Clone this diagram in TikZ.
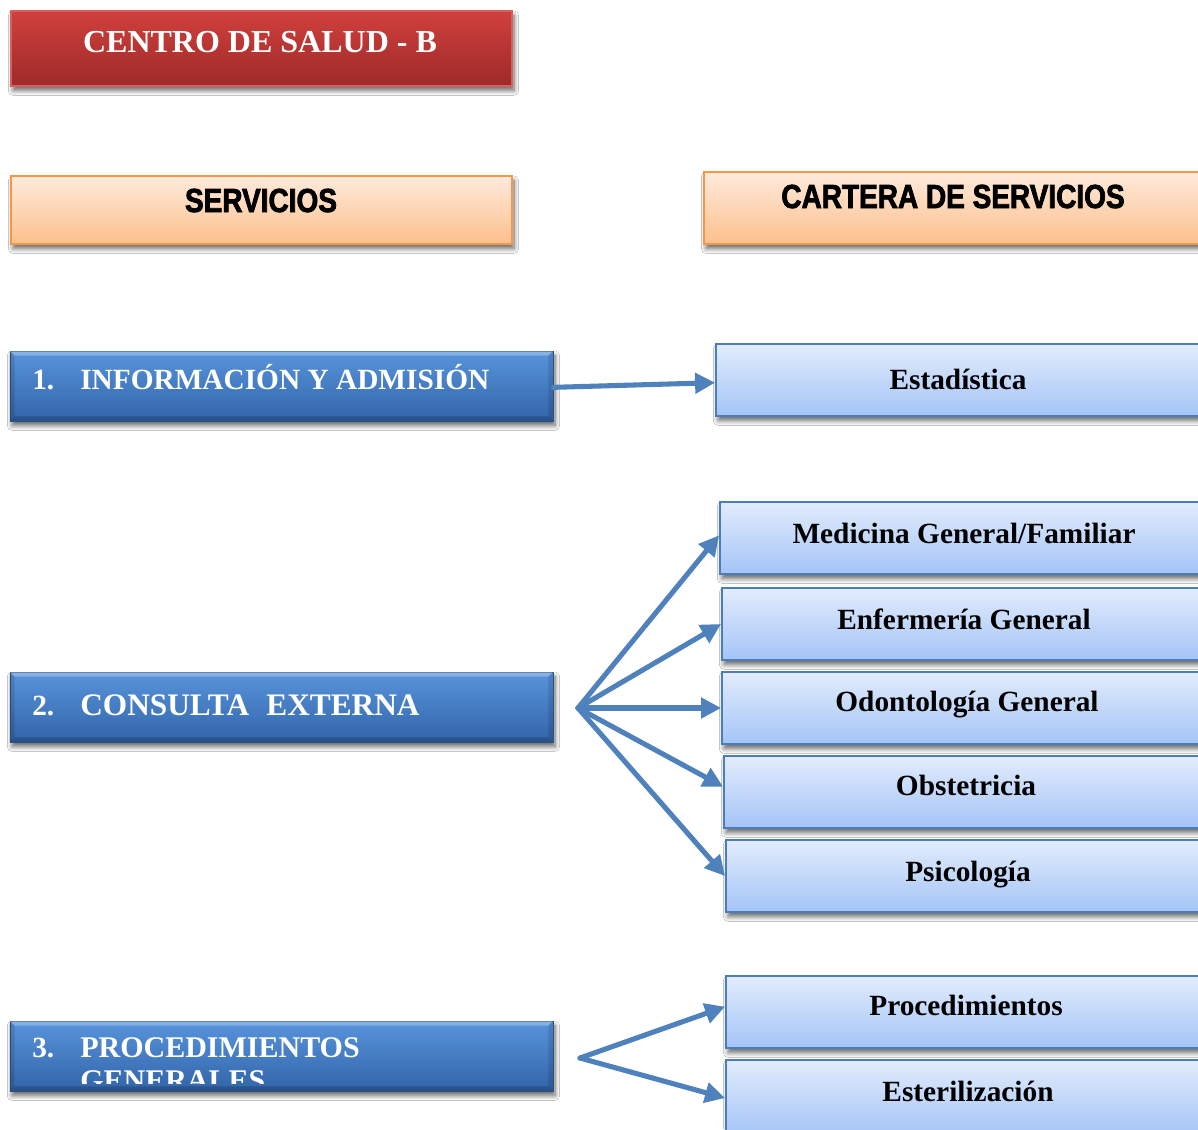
\documentclass[tikz,border=0pt]{standalone}
\usepackage{fontspec}
\setmainfont{Liberation Serif}
\newfontfamily\headfont[FakeStretch=0.84,BoldFeatures={FakeBold=2.2}]{Liberation Sans}
\usetikzlibrary{arrows.meta,fit,shadows.blur}

\definecolor{redtop}{RGB}{208,64,60}
\definecolor{redbot}{RGB}{158,42,42}
\definecolor{redline}{RGB}{214,96,92}
\definecolor{ortop}{RGB}{255,234,220}
\definecolor{orbot}{RGB}{251,192,140}
\definecolor{orline}{RGB}{247,150,70}
\definecolor{dbtop}{RGB}{88,148,220}
\definecolor{dbbot}{RGB}{50,100,168}
\definecolor{dbline}{RGB}{44,84,140}
\definecolor{lbtop}{RGB}{226,236,252}
\definecolor{lbbot}{RGB}{164,196,247}
\definecolor{lbline}{RGB}{74,126,187}
\definecolor{arrowblue}{RGB}{79,129,189}

\tikzset{
  shadowed/.style={blur shadow={shadow xshift=1.5pt,shadow yshift=-3.5pt,shadow blur radius=3.5pt,shadow blur steps=8,shadow opacity=60}},
  redbox/.style={inner sep=0pt,draw=redline,line width=0.8pt,top color=redtop,bottom color=redbot,shadowed},
  orbox/.style={inner sep=0pt,draw=orline,line width=1.6pt,top color=ortop,bottom color=orbot,shadowed},
  darkbox/.style={inner sep=0pt,draw=dbline,line width=0.6pt,top color=dbtop,bottom color=dbbot,shadowed},
  lightbox/.style={inner sep=0pt,draw=lbline,line width=1.4pt,top color=lbtop,bottom color=lbbot,shadowed},
  feed/.style={draw=arrowblue,line width=3.8pt,line cap=round,-{Triangle[length=15pt,width=15pt]}},
  titletext/.style={text=white,font=\fontsize{24}{28}\selectfont\bfseries,anchor=base,inner sep=0pt},
  headtext/.style={font=\headfont\fontsize{25}{29}\selectfont\bfseries,anchor=base,inner sep=0pt},
  servtext/.style={text=white,font=\fontsize{22}{26}\selectfont\bfseries,anchor=base west,inner sep=0pt},
  itemtext/.style={font=\fontsize{22}{26}\selectfont\bfseries,anchor=base,inner sep=0pt},
}

% raised edges of the dark blue service boxes
\newcommand\bevelbox[1]{%
  \fill[white,opacity=.28] (#1.north west) -- (#1.north east) -- ([shift={(-5,5)}]#1.north east) -- ([shift={(5,5)}]#1.north west) -- cycle;
  \fill[black,opacity=.18] (#1.south west) -- (#1.south east) -- ([shift={(-5,-5)}]#1.south east) -- ([shift={(5,-5)}]#1.south west) -- cycle;
  \fill[black,opacity=.12] (#1.north west) -- ([shift={(5,5)}]#1.north west) -- ([shift={(5,-5)}]#1.south west) -- (#1.south west) -- cycle;
  \fill[black,opacity=.12] (#1.north east) -- ([shift={(-5,5)}]#1.north east) -- ([shift={(-5,-5)}]#1.south east) -- (#1.south east) -- cycle;
}

\begin{document}
\begin{tikzpicture}[x=0.75pt,y=-0.75pt]
\fill[white] (0,0) rectangle (1198,1129);
\useasboundingbox (0,0) rectangle (1198,1129);

% heading boxes
\node[redbox,fit={(11,11) (512,86)}] (centro) {};
\node[titletext] (t-centro) at (260,52) {CENTRO DE SALUD - B};

\node[orbox,fit={(11,176) (512,244)}] (serv) {};
\node[headtext] (t-serv) at (261,212) {SERVICIOS};

\node[orbox,fit={(704,172) (1210,244)}] (cartera) {};
\node[headtext] (t-cartera) at (953,208) {CARTERA DE SERVICIOS};

% services
\node[darkbox,fit={(10,351) (553,421)}] (b1) {};
\bevelbox{b1}
\node[servtext] (n1) at (32,389) {1.};
\node[servtext] (t1) at (80,389) {INFORMACIÓN Y ADMISIÓN};

\node[darkbox,fit={(10,672) (553,742)}] (b2) {};
\bevelbox{b2}
\node[servtext] (n2) at (32,715) {2.};
\node[servtext,font=\fontsize{23.5}{27}\selectfont\bfseries] (t2) at (80,715) {CONSULTA\hspace{0.3em} EXTERNA};

\node[darkbox,fit={(10,1021) (553,1091)}] (b3) {};
\bevelbox{b3}
\node[servtext] (n3) at (32,1057) {3.};
\node[servtext,font=\fontsize{22.5}{26}\selectfont\bfseries] (t3) at (80,1057) {PROCEDIMIENTOS};
\begin{scope}
  \clip (10,1021) rectangle (553,1083);
  \node[servtext,font=\fontsize{22.5}{26}\selectfont\bfseries] (t3b) at (80,1090) {GENERALES};
\end{scope}

% portfolio
\node[lightbox,fit={(716,344) (1210,416)}] (est) {};
\node[itemtext] (t-est) at (958,389) {Estadística};

\node[lightbox,fit={(720,502) (1210,574)}] (med) {};
\node[itemtext] (t-med) at (964,543) {Medicina General/Familiar};

\node[lightbox,fit={(722,588) (1210,660)}] (enf) {};
\node[itemtext] (t-enf) at (964,629) {Enfermería General};

\node[lightbox,fit={(722,672) (1210,744)}] (odo) {};
\node[itemtext] (t-odo) at (967,711) {Odontología General};

\node[lightbox,fit={(724,756) (1210,828)}] (obs) {};
\node[itemtext] (t-obs) at (966,795) {Obstetricia};

\node[lightbox,fit={(726,840) (1210,912)}] (psi) {};
\node[itemtext] (t-psi) at (968,881) {Psicología};

\node[lightbox,fit={(726,976) (1210,1048)}] (proc) {};
\node[itemtext] (t-proc) at (966,1015) {Procedimientos};

\node[lightbox,fit={(726,1060) (1210,1136)}] (este) {};
\node[itemtext] (t-este) at (968,1101) {Esterilización};

% connectors
\coordinate (hub2) at (578,708);
\coordinate (hub3) at (580,1058);

\draw[feed] ([yshift=-1pt]b1.east) -- ([yshift=-2pt]est.west);

\draw[feed] (hub2) -- ([yshift=2pt]med.west);
\draw[feed] (hub2) -- (enf.west);
\draw[feed] (hub2) -- (odo.west);
\draw[feed] (hub2) -- ([yshift=4pt]obs.west);
\draw[feed] (hub2) -- (psi.west);

\draw[feed] (hub3) -- ([yshift=4pt]proc.west);
\draw[feed] (hub3) -- (este.west);
\end{tikzpicture}
\end{document}
